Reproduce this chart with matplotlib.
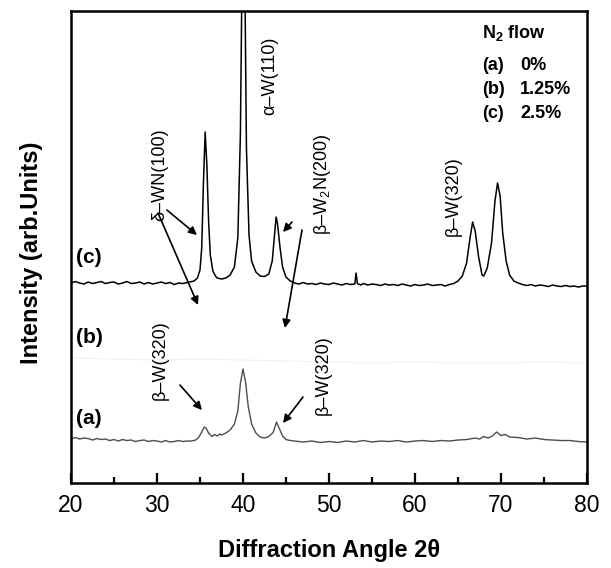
"""
XRD patterns of W films for three N2 flow ratios
"""

import matplotlib
matplotlib.use("Agg")
import matplotlib.pyplot as plt
from matplotlib.ticker import MultipleLocator

plt.rcParams['font.family'] = ['Liberation Sans', 'DejaVu Sans']
plt.rcParams['mathtext.fontset'] = 'custom'
plt.rcParams['mathtext.rm'] = 'Liberation Sans'
plt.rcParams['mathtext.bf'] = 'Liberation Sans:bold'

# curve (c): 2.5% N2  (2theta, intensity in arb. units)
c_x = [20.0, 20.5, 21.0, 21.5, 22.0, 22.5, 23.0, 23.5, 24.0, 24.5, 25.0, 25.5, 26.0, 26.5,
       27.0, 27.5, 28.0, 28.5, 29.0, 29.5, 30.0, 30.5, 31.0, 31.5, 32.0, 32.5, 33.0, 33.5,
       33.8, 34.3, 34.7, 35.0, 35.2, 35.4, 35.6, 35.8, 36.0, 36.2, 36.5, 36.8, 37.0, 37.5,
       38.0, 38.5, 39.0, 39.4, 39.7, 39.9, 40.2, 40.4, 40.7, 41.0, 41.5, 42.0, 42.5, 43.0,
       43.4, 43.7, 43.85, 44.0, 44.3, 44.6, 45.0, 45.5, 46.0, 46.5, 47.0, 47.5, 48.0, 48.5,
       49.0, 49.5, 50.0, 50.5, 51.0, 51.5, 52.0, 52.5, 53.0, 53.15, 53.3, 53.7, 54.0, 54.5,
       55.0, 55.5, 56.0, 56.5, 57.0, 57.5, 58.0, 58.5, 59.0, 59.5, 60.0, 60.5, 61.0, 61.5,
       62.0, 62.5, 63.0, 63.5, 64.0, 64.5, 65.0, 65.5, 66.0, 66.4, 66.7, 67.0, 67.4, 67.8,
       68.0, 68.4, 68.9, 69.3, 69.6, 69.9, 70.2, 70.6, 71.0, 71.5, 72.0, 72.5, 73.0, 73.5,
       74.0, 74.5, 75.0, 75.5, 76.0, 76.5, 77.0, 77.5, 78.0, 78.5, 79.0, 79.5, 80.0]
c_y = [200, 201.5, 200, 199, 201, 199.5, 200.5, 201.5, 199.5, 200.5, 201, 199, 200, 201.5,
       199.5, 200, 201, 199, 200.5, 199, 200, 201, 199.5, 200.5, 198.5, 200, 199.5, 200.5,
       201, 202, 205, 213, 235, 300, 351, 318, 262, 228, 212, 207, 205, 204,
       205, 208, 216, 245, 350, 520, 520, 335, 248, 222, 211, 207, 206.5, 209,
       222, 252, 266, 260, 236, 216, 206, 202, 200, 199, 200.5, 199, 199.5, 198.5,
       200, 199, 198.5, 200, 199, 198, 199.5, 198.5, 199, 210, 199.5, 198, 199.5, 198,
       199, 198.5, 197.5, 199, 198, 198.5, 197.5, 199, 198, 197, 198.5, 197.5, 198, 199,
       197.5, 198, 198.5, 197, 198.5, 199.5, 202, 207, 220, 245, 261, 252, 226, 208,
       207, 215, 240, 282, 300, 287, 250, 222, 208, 202, 200, 198.5, 197.5, 198.5,
       197, 198, 197.5, 196.5, 198, 197, 196.5, 197.5, 196.5, 197, 196, 197, 197]

# curve (b): 1.25% N2, nearly invisible in the scan
b_x = [20.0, 25.0, 30.0, 35.0, 40.0, 45.0, 50.0, 55.0, 60.0, 65.0, 70.0, 75.0, 80.0]
b_y = [125, 124, 123, 124, 123, 122, 121, 120, 121, 120, 120, 121, 120]

# curve (a): 0% N2
a_x = [20.0, 20.5, 21.0, 21.5, 22.0, 22.5, 23.0, 23.5, 24.0, 24.5, 25.0, 25.5, 26.0, 26.5,
       27.0, 27.5, 28.0, 28.5, 29.0, 29.5, 30.0, 30.5, 31.0, 31.5, 32.0, 32.5, 33.0, 33.5,
       34.0, 34.5, 34.8, 35.2, 35.5, 35.7, 36.0, 36.4, 36.7, 37.0, 37.3, 37.5, 38.0, 38.5,
       39.0, 39.4, 39.7, 40.0, 40.3, 40.6, 41.0, 41.5, 42.0, 42.5, 43.0, 43.5, 43.9, 44.2,
       44.6, 45.0, 45.5, 46.0, 47.0, 48.0, 49.0, 50.0, 51.0, 52.0, 53.0, 54.0, 55.0, 56.0,
       57.0, 58.0, 59.0, 60.0, 61.0, 62.0, 63.0, 64.0, 65.0, 66.0, 67.0, 67.5, 68.0, 68.5,
       69.0, 69.5, 70.0, 70.5, 71.0, 72.0, 73.0, 74.0, 75.0, 76.0, 77.0, 78.0, 79.0, 80.0]
a_y = [44, 45.5, 44, 45, 44.5, 43, 44.5, 43.5, 44, 42.5, 43.5, 42, 43.5, 42.5,
       43, 41.5, 42.5, 43, 41.5, 42.5, 42, 41, 42.5, 41, 41.5, 42.5, 41.5, 42,
       42, 43, 45, 51, 56, 55, 50, 46.5, 48.5, 47, 49, 48, 50, 53,
       59, 72, 100, 114, 101, 77, 59, 50, 46, 45, 46.5, 50.5, 61, 55,
       47, 43.5, 42.5, 42, 41, 42, 40.5, 41.5, 40.5, 42, 41, 42.5, 41, 42,
       41.5, 42.5, 41, 42, 42.5, 41.5, 42.5, 42, 43, 43.5, 45, 44, 46.5, 45,
       47, 51, 47.5, 48.5, 46, 45.5, 44, 45, 43.5, 43, 42.5, 42.5, 41.5, 41]

x_ticks = [20, 30, 40, 50, 60, 70, 80]

fig = plt.figure(figsize=(6.11, 5.68), dpi=100)
ax = fig.add_axes([0.1162, 0.1496, 0.8445, 0.831])

ax.plot(b_x, b_y, color='0.94', lw=0.8)
ax.plot(a_x, a_y, color='0.3', lw=1.0)
ax.plot(c_x, c_y, color='black', lw=1.1)

ax.set_xlim(20, 80)
ax.set_ylim(0, 472)
ax.set_xticks(x_ticks)
ax.xaxis.set_minor_locator(MultipleLocator(5))
ax.set_yticks([])
ax.tick_params(axis='x', which='major', direction='in', length=7, width=1.6,
               labelsize=16.5, pad=8)
ax.tick_params(axis='x', which='minor', direction='in', length=4, width=1.6)
for s in ax.spines.values():
    s.set_linewidth(1.8)

fig.text(329/611, 1 - 550/568, 'Diffraction Angle 2\u03b8', ha='center', va='center',
         fontsize=17, fontweight='bold')
fig.text(32/611, 1 - 253/568, 'Intensity (arb.Units)', ha='center', va='center',
         rotation=90, fontsize=17, fontweight='bold')

# sample labels
for lab, yy in [('(c)', 226), ('(b)', 146), ('(a)', 65)]:
    ax.text(20.55, yy, lab, ha='left', va='center', fontsize=15, fontweight='bold')

# legend box text
ax.text(67.8, 450, 'N$_\\mathbf{2}$ flow', ha='left', va='center', fontsize=13, fontweight='bold')
for lab, val, yy in [('(a)', '0%', 418), ('(b)', '1.25%', 394), ('(c)', '2.5%', 370)]:
    ax.text(67.8, yy, lab, ha='left', va='center', fontsize=13, fontweight='bold')
    ax.text(72.2, yy, val, ha='left', va='center', fontsize=13, fontweight='bold')

# peak labels
peak_labels = [
    (30.35, 308, '\u03b4\u2013WN(100)'),
    (43.14, 407, '\u03b1\u2013W(110)'),
    (49.3, 299, '\u03b2\u2013W$_2$N(200)'),
    (64.4, 287, '\u03b2\u2013W(320)'),
    (30.35, 123, '\u03b2\u2013W(320)'),
    (49.3, 108, '\u03b2\u2013W(320)'),
]
for px, py, lab in peak_labels:
    ax.text(px, py, lab, rotation=90, ha='center', va='center', fontsize=13)

arrows = [
    ((31.16, 273), (34.65, 248)),
    ((30.12, 270), (34.77, 178)),
    ((45.7, 261), (44.65, 251)),
    ((46.86, 253), (44.88, 155)),
    ((32.67, 98), (35.23, 73)),
    ((46.98, 86), (44.65, 60)),
]
for tail, head in arrows:
    ax.annotate('', xy=head, xytext=tail,
                arrowprops=dict(arrowstyle='-|>', color='black', lw=1.2,
                                mutation_scale=12, shrinkA=0, shrinkB=0))

plt.savefig('out.png', dpi=100)
